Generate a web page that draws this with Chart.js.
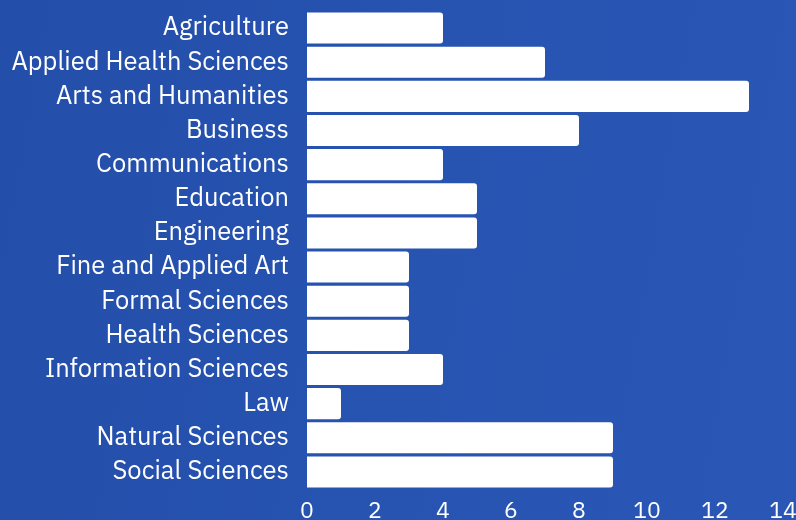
<!DOCTYPE html>
<html lang="en">
<head>
    <meta charset="UTF-8">
    <title>Fields of Study</title>
    <script src="https://cdn.jsdelivr.net/npm/chart.js"></script>
    <style>
        body {
            margin: 0;
            background: linear-gradient(100deg, #234ea9 0%, #2753b1 50%, #2a57b6 100%);
        }
        .chart-box {
            width: 796px;
            height: 520px;
        }
    </style>
</head>
<body>
    <div class="chart-box">
        <canvas id="fieldChart"></canvas>
    </div>

    <script>
        // Data
        const fields = [
            'Agriculture', 'Applied Health Sciences', 'Arts and Humanities', 'Business',
            'Communications', 'Education', 'Engineering', 'Fine and Applied Art',
            'Formal Sciences', 'Health Sciences', 'Information Sciences', 'Law',
            'Natural Sciences', 'Social Sciences'
        ];
        const counts = [4, 7, 13, 8, 4, 5, 5, 3, 3, 3, 4, 1, 9, 9];
        const xTicks = [0, 2, 4, 6, 8, 10, 12, 14];

        const fontFamily = "'IBM Plex Sans', 'Open Sans', sans-serif";

        const ctx = document.getElementById('fieldChart').getContext('2d');
        const fieldChart = new Chart(ctx, {
            type: 'bar',
            data: {
                labels: fields,
                datasets: [{
                    data: counts,
                    backgroundColor: '#ffffff',
                    borderWidth: 0,
                    borderRadius: 3,
                    borderSkipped: 'start',
                    barPercentage: 0.91,
                    categoryPercentage: 1
                }]
            },
            options: {
                indexAxis: 'y',
                responsive: true,
                maintainAspectRatio: false,
                animation: false,
                layout: { padding: { top: 11, right: 13, left: 0, bottom: 0 } },
                plugins: {
                    legend: { display: false },
                    tooltip: { enabled: false }
                },
                scales: {
                    x: {
                        min: 0,
                        max: 14,
                        grid: { display: false, drawTicks: false },
                        border: { display: false },
                        afterBuildTicks: (axis) => {
                            axis.ticks = xTicks.map(v => ({ value: v }));
                        },
                        afterFit: (axis) => {
                            axis.height = 31;
                            axis.paddingLeft = 0;
                            axis.paddingRight = 0;
                        },
                        ticks: {
                            color: '#ffffff',
                            padding: 9,
                            font: { family: fontFamily, size: 23 }
                        }
                    },
                    y: {
                        grid: { display: false, drawTicks: false },
                        border: { display: false },
                        afterFit: (axis) => {
                            axis.width = 307;
                            axis.paddingTop = 0;
                            axis.paddingBottom = 0;
                        },
                        ticks: {
                            color: '#ffffff',
                            padding: 18,
                            font: { family: fontFamily, size: 25.5 }
                        }
                    }
                }
            }
        });
    </script>
</body>
</html>
